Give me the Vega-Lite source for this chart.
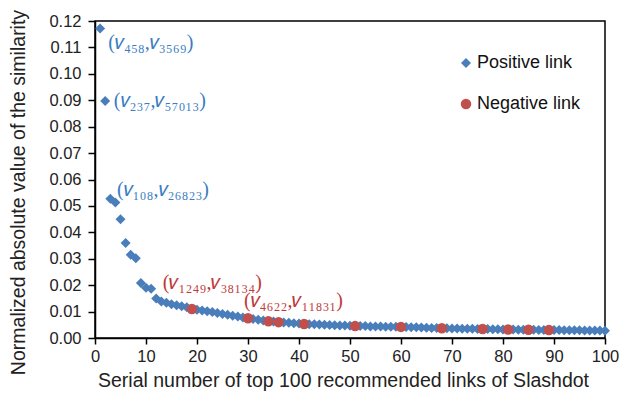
{
  "$schema": "https://vega.github.io/schema/vega-lite/v6.json",
  "width": 510,
  "height": 317,
  "autosize": {"type": "none"},
  "padding": {"left": 95, "top": 21, "right": 16, "bottom": 62},
  "config": {
    "view": {"stroke": "black", "strokeWidth": 1.5},
    "font": "Liberation Sans",
    "axis": {
      "grid": false, "domainColor": "black", "domainWidth": 1.5, "tickColor": "black", "tickWidth": 1.5, "tickSize": 6,
      "labelOverlap": false, "labelFlush": false, "labelBound": false,
      "labelFont": "Liberation Sans", "labelFontSize": 16.5, "labelColor": "#222", "titleFont": "Liberation Sans", "titleFontSize": 19.5, "titleFontWeight": "normal", "titleColor": "#222"
    }
  },
  "datasets": {
    "pts": [
      {"n":1,"v":0.1172,"type":"Positive link"},{"n":2,"v":0.0897,"type":"Positive link"},{"n":3,"v":0.0527,"type":"Positive link"},{"n":4,"v":0.0513,"type":"Positive link"},{"n":5,"v":0.0450,"type":"Positive link"},
      {"n":6,"v":0.0360,"type":"Positive link"},{"n":7,"v":0.0315,"type":"Positive link"},{"n":8,"v":0.0302,"type":"Positive link"},{"n":9,"v":0.0208,"type":"Positive link"},{"n":10,"v":0.0190,"type":"Positive link"},
      {"n":11,"v":0.0186,"type":"Positive link"},{"n":12,"v":0.0150,"type":"Positive link"},{"n":13,"v":0.0138,"type":"Positive link"},{"n":14,"v":0.0133,"type":"Positive link"},{"n":15,"v":0.0128,"type":"Positive link"},
      {"n":16,"v":0.0124,"type":"Positive link"},{"n":17,"v":0.0120,"type":"Positive link"},{"n":18,"v":0.0116,"type":"Positive link"},{"n":20,"v":0.0107,"type":"Positive link"},
      {"n":21,"v":0.0104,"type":"Positive link"},{"n":22,"v":0.0101,"type":"Positive link"},{"n":23,"v":0.0098,"type":"Positive link"},{"n":24,"v":0.0095,"type":"Positive link"},{"n":25,"v":0.0091,"type":"Positive link"},
      {"n":26,"v":0.0088,"type":"Positive link"},{"n":27,"v":0.0084,"type":"Positive link"},{"n":28,"v":0.0081,"type":"Positive link"},{"n":29,"v":0.0078,"type":"Positive link"},
      {"n":31,"v":0.0072,"type":"Positive link"},{"n":32,"v":0.0069,"type":"Positive link"},{"n":33,"v":0.0066,"type":"Positive link"},{"n":35,"v":0.0062,"type":"Positive link"},
      {"n":37,"v":0.0059,"type":"Positive link"},{"n":38,"v":0.0058,"type":"Positive link"},{"n":39,"v":0.0056,"type":"Positive link"},{"n":40,"v":0.0055,"type":"Positive link"},
      {"n":42,"v":0.0052,"type":"Positive link"},{"n":43,"v":0.0052,"type":"Positive link"},{"n":44,"v":0.0051,"type":"Positive link"},{"n":45,"v":0.0050,"type":"Positive link"},
      {"n":46,"v":0.0049,"type":"Positive link"},{"n":47,"v":0.0048,"type":"Positive link"},{"n":48,"v":0.0047,"type":"Positive link"},{"n":49,"v":0.0047,"type":"Positive link"},{"n":50,"v":0.0046,"type":"Positive link"},
      {"n":52,"v":0.0045,"type":"Positive link"},{"n":53,"v":0.0045,"type":"Positive link"},{"n":54,"v":0.0044,"type":"Positive link"},{"n":55,"v":0.0044,"type":"Positive link"},
      {"n":56,"v":0.0044,"type":"Positive link"},{"n":57,"v":0.0043,"type":"Positive link"},{"n":58,"v":0.0043,"type":"Positive link"},{"n":59,"v":0.0043,"type":"Positive link"},
      {"n":61,"v":0.0042,"type":"Positive link"},{"n":62,"v":0.0041,"type":"Positive link"},{"n":63,"v":0.0041,"type":"Positive link"},{"n":64,"v":0.0040,"type":"Positive link"},{"n":65,"v":0.0039,"type":"Positive link"},
      {"n":66,"v":0.0038,"type":"Positive link"},{"n":67,"v":0.0038,"type":"Positive link"},{"n":69,"v":0.0037,"type":"Positive link"},{"n":70,"v":0.0036,"type":"Positive link"},
      {"n":71,"v":0.0036,"type":"Positive link"},{"n":72,"v":0.0035,"type":"Positive link"},{"n":73,"v":0.0035,"type":"Positive link"},{"n":74,"v":0.0035,"type":"Positive link"},{"n":75,"v":0.0034,"type":"Positive link"},
      {"n":77,"v":0.0034,"type":"Positive link"},{"n":78,"v":0.0033,"type":"Positive link"},{"n":79,"v":0.0033,"type":"Positive link"},{"n":80,"v":0.0032,"type":"Positive link"},
      {"n":82,"v":0.0032,"type":"Positive link"},{"n":83,"v":0.0031,"type":"Positive link"},{"n":84,"v":0.0031,"type":"Positive link"},
      {"n":86,"v":0.0031,"type":"Positive link"},{"n":87,"v":0.0030,"type":"Positive link"},{"n":88,"v":0.0030,"type":"Positive link"},{"n":90,"v":0.0030,"type":"Positive link"},
      {"n":91,"v":0.0030,"type":"Positive link"},{"n":92,"v":0.0029,"type":"Positive link"},{"n":93,"v":0.0029,"type":"Positive link"},{"n":94,"v":0.0029,"type":"Positive link"},{"n":95,"v":0.0029,"type":"Positive link"},
      {"n":96,"v":0.0028,"type":"Positive link"},{"n":97,"v":0.0028,"type":"Positive link"},{"n":98,"v":0.0028,"type":"Positive link"},{"n":99,"v":0.0028,"type":"Positive link"},{"n":100,"v":0.0027,"type":"Positive link"},
      {"n":19,"v":0.0110,"type":"Negative link"},{"n":30,"v":0.0075,"type":"Negative link"},{"n":34,"v":0.0063,"type":"Negative link"},{"n":36,"v":0.0060,"type":"Negative link"},
      {"n":41,"v":0.0053,"type":"Negative link"},{"n":51,"v":0.0045,"type":"Negative link"},{"n":60,"v":0.0042,"type":"Negative link"},{"n":68,"v":0.0037,"type":"Negative link"},
      {"n":76,"v":0.0034,"type":"Negative link"},{"n":81,"v":0.0032,"type":"Negative link"},{"n":85,"v":0.0031,"type":"Negative link"},{"n":89,"v":0.0030,"type":"Negative link"}
    ],
    "notes": [
      {"n":2.6,"v":0.1115,"label":"(𝑣₄₅₈,𝑣₃₅₆₉)","c":"#3A7DC2"},
      {"n":3.7,"v":0.0898,"label":"(𝑣₂₃₇,𝑣₅₇₀₁₃)","c":"#3A7DC2"},
      {"n":4.3,"v":0.0560,"label":"(𝑣₁₀₈,𝑣₂₆₈₂₃)","c":"#3A7DC2"},
      {"n":13.3,"v":0.0208,"label":"(𝑣₁₂₄₉,𝑣₃₈₁₃₄)","c":"#C0393B"},
      {"n":29.2,"v":0.0140,"label":"(𝑣₄₆₂₂,𝑣₁₁₈₃₁)","c":"#C0393B"}
    ]
  },
  "layer": [
    {
      "data": {"name": "pts"},
      "mark": {"type": "point", "filled": true, "opacity": 1},
      "encoding": {
        "x": {"field": "n", "type": "quantitative", "scale": {"domain": [0, 100], "nice": false}, "axis": {"values": [0,10,20,30,40,50,60,70,80,90,100], "tickCount": 11, "labelOverlap": false, "title": "Serial number of top 100 recommended links of Slashdot", "titleX": 248, "titleY": 33, "titleBaseline": "top", "labelPadding": 4}},
        "y": {"field": "v", "type": "quantitative", "scale": {"domain": [0, 0.12], "nice": false}, "axis": {"values": [0,0.01,0.02,0.03,0.04,0.05,0.06,0.07,0.08,0.09,0.10,0.11,0.12], "tickCount": 13, "labelOverlap": false, "format": ".2f", "tickSize": 7, "labelPadding": 7, "title": "Normalized absolute value of the similarity", "titleX": -67, "titleY": 171, "titleBaseline": "bottom", "titleAngle": -90}},
        "color": {"field": "type", "type": "nominal", "scale": {"domain": ["Positive link", "Negative link"], "range": ["#4A7EBB", "#C0504D"]},
          "legend": {"title": null, "orient": "none", "legendX": 362, "legendY": 33, "labelFontSize": 18, "labelColor": "#111", "labelFont": "Liberation Sans", "rowPadding": 23, "labelOffset": 2, "symbolSize": 80}},
        "shape": {"field": "type", "type": "nominal", "scale": {"domain": ["Positive link", "Negative link"], "range": ["diamond", "circle"]}},
        "size": {"field": "type", "type": "nominal", "scale": {"domain": ["Positive link", "Negative link"], "range": [100, 110]}, "legend": null}
      }
    },
    {
      "data": {"name": "notes"},
      "mark": {"type": "text", "align": "left", "baseline": "middle", "font": "Liberation Serif", "fontSize": 20},
      "encoding": {
        "x": {"field": "n", "type": "quantitative"},
        "y": {"field": "v", "type": "quantitative"},
        "text": {"field": "label"},
        "color": {"field": "c", "type": "nominal", "scale": null}
      }
    }
  ]
}
